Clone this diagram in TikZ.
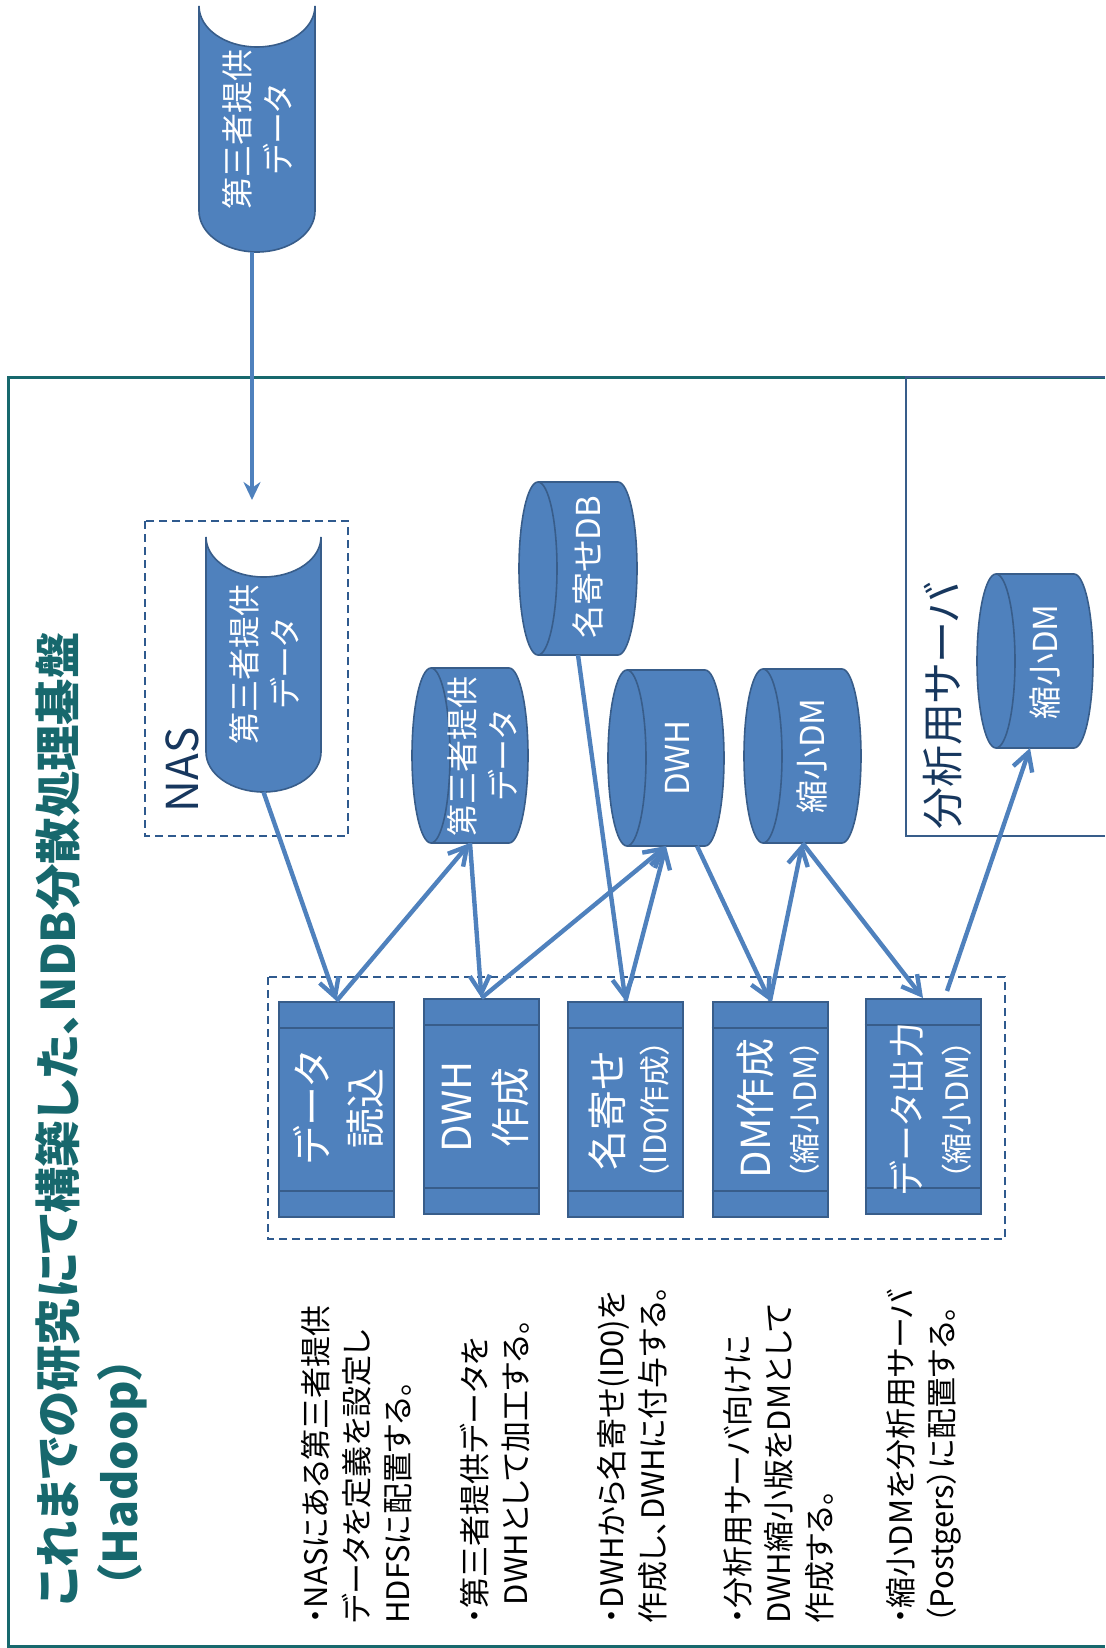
\documentclass[tikz,border=0pt]{standalone}
\usepackage{fontspec}
\setmainfont{Noto Sans CJK JP}[RawFeature={+palt}]
\usetikzlibrary{arrows.meta,calc}
\definecolor{pblue}{HTML}{4F81BD}
\definecolor{pborder}{HTML}{385D8A}
\definecolor{pteal}{HTML}{17686D}
\definecolor{pnavy}{HTML}{17375E}
\definecolor{pdash}{HTML}{2F5A8E}
\tikzset{
  cylshape/.style={fill=pblue, draw=pborder, line width=0.8pt},
  anc/.style={inner sep=0pt, outer sep=0pt},
  proc/.style={draw=pborder, fill=pblue, line width=1pt, minimum width=57.5pt, minimum height=107.5pt, inner sep=0pt},
  band/.style={draw=pborder, line width=1pt},
  ctext/.style={text=white, rotate=90, align=center, inner sep=0pt, font=\fontsize{16}{20.5}\selectfont},
  btext/.style={text=white, rotate=90, inner sep=0pt, font=\fontsize{20}{24}\selectfont},
  bsub/.style={text=white, rotate=90, inner sep=0pt, font=\fontsize{15.5}{18}\selectfont},
  flow/.style={draw=pblue, line width=2.2pt, -{Straight Barb[length=9pt,width=10pt]}},
  topflow/.style={draw=pblue, line width=2pt, -{Stealth[length=9pt,width=8.5pt]}},
  dashbox/.style={draw=pdash, line width=1pt, dash pattern=on 4pt off 2.5pt},
  desc/.style={rotate=90, anchor=west, align=left, inner sep=0pt, font=\fontsize{15.5}{20.5}\selectfont},
  lbl/.style={rotate=90, inner sep=0pt, text=pnavy},
}
\newcommand\hcyl[5]{%
  \pgfmathsetmacro\cyry{(#5-#3)/2}%
  \pgfmathsetmacro\cyrx{19}%
  \draw[cylshape] (#2+\cyrx,#3) -- (#4-\cyrx,#3)
    arc[start angle=-90,end angle=90,x radius=\cyrx,y radius=\cyry]
    -- (#2+\cyrx,#5)
    arc[start angle=90,end angle=270,x radius=\cyrx,y radius=\cyry] -- cycle;
  \draw[cylshape, fill=none] (#2+\cyrx,#3) arc[start angle=-90,end angle=90,x radius=\cyrx,y radius=\cyry];
  \pgfmathsetmacro\cyw{(#4-#2)/2}%
  \pgfmathsetmacro\cyh{(#5-#3)/2}%
  \node[anc, minimum width=\cyw pt, minimum height=\cyh pt] (#1) at ({(#2+#4)/2},{(#3+#5)/2}) {};
}
\newcommand\vcyl[7]{%
  \draw[cylshape] (#2,#3) -- (#2,#5)
    arc[start angle=180,end angle=0,x radius=#6,y radius=#7]
    -- (#4,#3)
    arc[start angle=0,end angle=180,x radius=#6,y radius=#7] -- cycle;
  \pgfmathsetmacro\cyw{(#4-#2)/2}%
  \pgfmathsetmacro\cyh{(#5+#7-#3)/2}%
  \node[anc, minimum width=\cyw pt, minimum height=\cyh pt] (#1) at ({(#2+#4)/2},{(#3+#5+#7)/2}) {};
}
\begin{document}
\begin{tikzpicture}[x=0.5pt,y=-0.5pt]
\useasboundingbox (0,0) rectangle (1105,1648);

% outer frame and server frame
\draw[pteal, line width=1.5pt] (1105,377) -- (8,377) -- (8,1646) -- (1105,1646);
\draw[pborder, line width=1pt] (1105,377) -- (906,377) -- (906,836) -- (1105,836);

% dashed groups
\draw[dashbox] (145,521) rectangle (348,836);
\draw[dashbox] (268,977) rectangle (1005,1239);

% cylinders
\vcyl{ext}{199}{6}{315}{211}{58}{41}
\vcyl{nascyl}{206}{537}{321}{752}{57.5}{40}
\hcyl{mid3}{412}{668}{528}{843}
\hcyl{nayose}{519}{482}{637}{655}
\hcyl{dwh}{608}{670}{724}{846}
\hcyl{dm}{744}{669}{861}{843}
\hcyl{sdm}{977}{574}{1093}{748}

\node[ctext] (t-ext) at (257,130) {第三者提供\\データ};
\node[ctext] (t-nas) at (264,664) {第三者提供\\データ};
\node[ctext] (t-mid3) at (482,756) {第三者提供\\データ};
\node[ctext, font=\fontsize{16.5}{20}\selectfont] (t-nayose) at (588,567) {名寄せDB};
\node[ctext, font=\fontsize{16.5}{20}\selectfont] (t-dwh) at (677,758) {DWH};
\node[ctext, font=\fontsize{16.5}{20}\selectfont] (t-dm) at (812,756) {縮小DM};
\node[ctext, font=\fontsize{16.5}{20}\selectfont] (t-sdm) at (1045,662) {縮小DM};

% process boxes
\node[proc] (box1) at (336.5,1109.5) {};
\node[proc] (box2) at (481.5,1106.5) {};
\node[proc] (box3) at (625.5,1109.5) {};
\node[proc] (box4) at (770,1109.5) {};
\node[proc] (box5) at (923,1106.5) {};
\foreach \b in {box1,box2,box3,box4,box5}{
  \draw[band] ([yshift=-13.5pt]\b.north west) -- ([yshift=-13.5pt]\b.north east);
  \draw[band] ([yshift=13.5pt]\b.south west) -- ([yshift=13.5pt]\b.south east);
}
\node[btext] (b1a) at (312,1108) {データ};
\node[btext] (b1b) at (365,1108) {読込};
\node[btext] (b2a) at (457,1107) {DWH};
\node[btext] (b2b) at (510,1107) {作成};
\node[btext] (b3a) at (607,1111) {名寄せ};
\node[bsub] (b3b) at (655,1110) {（ID0作成）};
\node[btext] (b4a) at (755,1108) {DM作成};
\node[bsub] (b4b) at (805,1110) {（縮小DM）};
\node[btext, font=\fontsize{18}{22}\selectfont] (b5a) at (907,1109) {データ出力};
\node[bsub] (b5b) at (957,1110) {（縮小DM）};

% labels
\node[lbl, font=\fontsize{22}{26}\selectfont] (naslbl) at (182,770) {NAS};
\node[lbl, font=\fontsize{21}{25}\selectfont] (srvlbl) at (943,706) {分析用サーバ};

% title
\node[rotate=90, anchor=west, align=left, inner sep=0pt, text=pteal,
      font=\fontsize{23.2}{31}\selectfont\bfseries] (title) at (91,1607)
      {これまでの研究にて構築した、NDB分散処理基盤\\\hspace*{0.4em}（Hadoop）};

% descriptions
\node[desc] (d1) at (357,1624) {・NASにある第三者提供\\データを定義を設定し\\HDFSに配置する。};
\node[desc] (d2) at (495,1624) {・第三者提供データを\\\hspace*{0.6em}DWHとして加工する。};
\node[desc] (d3) at (632,1624) {・DWHから名寄せ(ID0)を\\作成し、DWHに付与する。};
\node[desc] (d4) at (779,1624) {・分析用サーバ向けに\\DWH縮小版をDMとして\\作成する。};
\node[desc] (d5) at (924,1624) {・縮小DMを分析用サーバ\\（Postgers）に配置する。};

% connectors
\coordinate (nasin) at (252,500);
\draw[topflow] (ext.south -| nasin) -- (nasin);
\draw[flow] (nascyl.south) -- (box1.north);
\draw[flow] (box1.north) -- (mid3.south);
\draw[flow] (mid3.south) -- (box2.north);
\draw[flow] (box2.north) -- (dwh.south);
\draw[flow] (nayose.south) -- (box3.north);
\draw[flow] (box3.north) -- (dwh.south);
\draw[flow] ([xshift=15.5pt]dwh.south) -- (box4.north);
\draw[flow] (box4.north) -- (dm.south);
\draw[flow] (dm.south) -- (box5.north);
\draw[flow] ([xshift=12pt,yshift=3.5pt]box5.north) -- ([xshift=-2.5pt]sdm.south);
\end{tikzpicture}
\end{document}
